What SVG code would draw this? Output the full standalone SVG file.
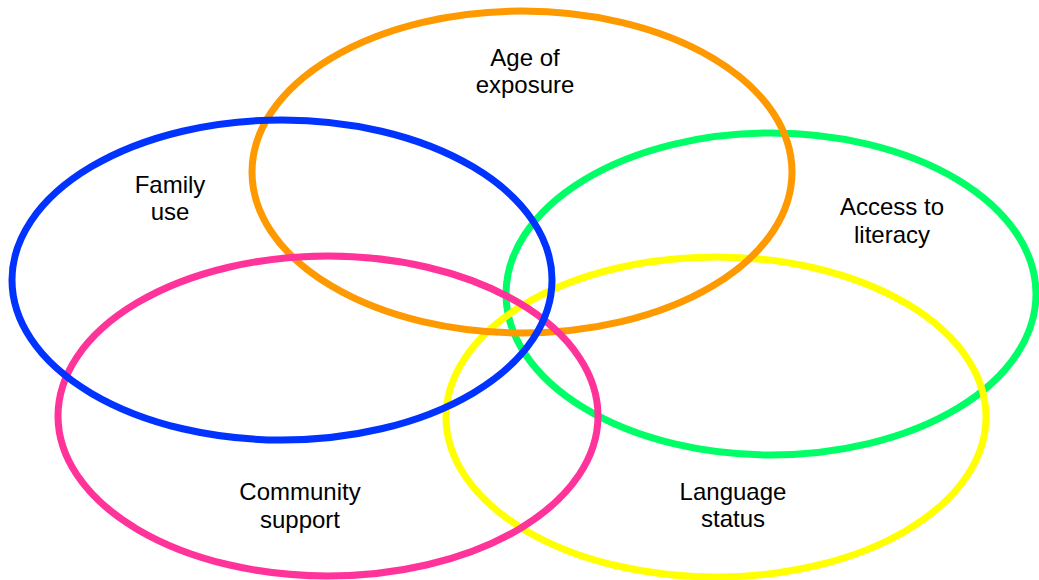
<svg xmlns="http://www.w3.org/2000/svg" width="1039" height="580" viewBox="0 0 1039 580">
  <style>
    .ring { fill: none; stroke-width: 7; }
    .label { font-family: "Liberation Sans", Arial, sans-serif; font-size: 24px; fill: #000; text-anchor: middle; }
  </style>
  <rect width="1039" height="580" fill="#fff"/>
  <g id="connectors"/>
  <g id="access-to-literacy">
    <ellipse class="ring" cx="771" cy="294" rx="265" ry="161" stroke="#00FF66"/>
    <text class="label" x="892" y="215">Access to</text>
    <text class="label" x="892" y="243">literacy</text>
  </g>
  <g id="language-status">
    <ellipse class="ring" cx="716" cy="417" rx="270" ry="160" stroke="#FFFF00"/>
    <text class="label" x="733" y="500">Language</text>
    <text class="label" x="733" y="527">status</text>
  </g>
  <g id="age-of-exposure">
    <ellipse class="ring" cx="522" cy="172" rx="270" ry="161" stroke="#FF9900"/>
    <text class="label" x="525" y="66">Age of</text>
    <text class="label" x="525" y="93">exposure</text>
  </g>
  <g id="community-support">
    <ellipse class="ring" cx="328" cy="416" rx="270" ry="160" stroke="#FF3399"/>
    <text class="label" x="300" y="500">Community</text>
    <text class="label" x="300" y="528">support</text>
  </g>
  <g id="family-use">
    <ellipse class="ring" cx="282" cy="280" rx="270" ry="160" stroke="#0033FF"/>
    <text class="label" x="170" y="193">Family</text>
    <text class="label" x="170" y="220">use</text>
  </g>
</svg>
